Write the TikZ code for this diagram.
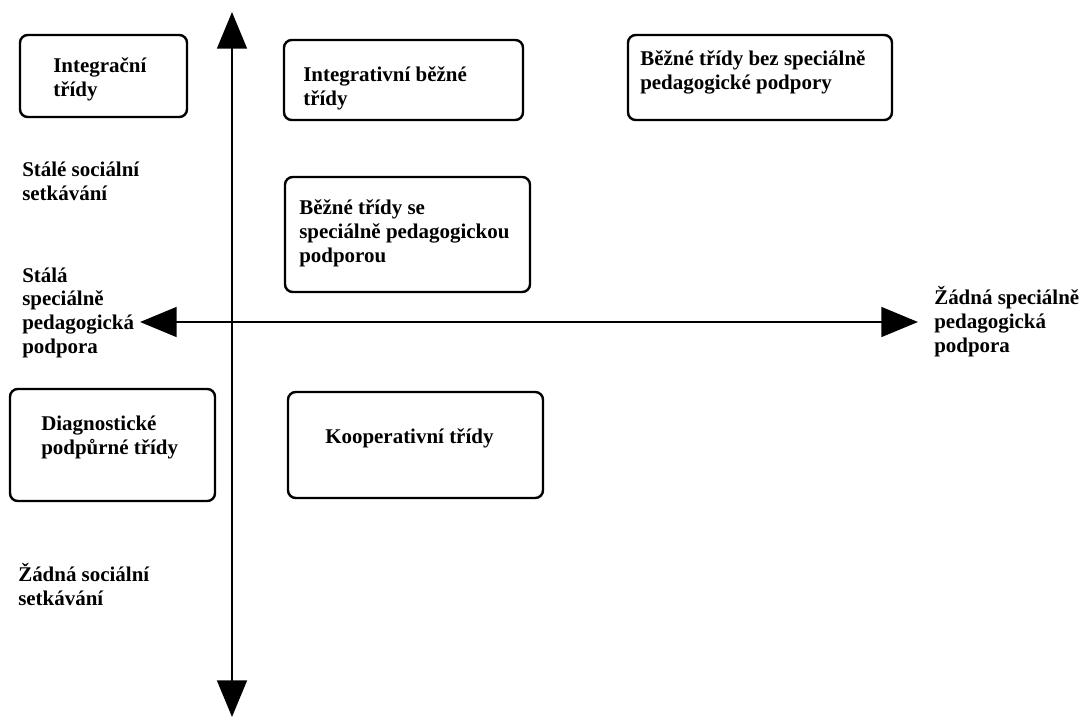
\documentclass[tikz,border=0pt]{standalone}
\usepackage{fontspec}
\setmainfont{Liberation Serif}
\usetikzlibrary{arrows.meta,fit}

\begin{document}
\begin{tikzpicture}[x=0.025cm,y=-0.025cm,
  trida/.style={draw,line width=1.7pt,rounded corners=5.5pt,inner sep=0pt},
  popis/.style={anchor=base west,align=left,inner sep=0pt,font=\fontsize{14.9}{16.8}\selectfont\bfseries},
  osa/.style={line width=2.1pt,{Triangle[width=21pt,length=26pt]}-{Triangle[width=21pt,length=26pt]}}]
\useasboundingbox (0,0) rectangle (1087,719);
% boxes
\node[trida,fit={(20,35) (187,117)}] (integ) {};
\node[trida,fit={(284,40) (523,120)}] (integbez) {};
\node[trida,fit={(628,35) (892,120)}] (bezpod) {};
\node[trida,fit={(285,177) (530,292)}] (spod) {};
\node[trida,fit={(10,389) (215,501)}] (diag) {};
\node[trida,fit={(288,392) (543,498)}] (koop) {};
% text sits on the baseline of its last line
\node[popis] (tinteg) at (53,96) {Integrační\\třídy};
\node[popis] (tintegbez) at (303,105) {Integrativní běžné\\třídy};
\node[popis] (tbezpod) at (640,89) {Běžné třídy bez speciálně\\pedagogické podpory};
\node[popis] (tspod) at (299,262) {Běžné třídy se\\speciálně pedagogickou\\podporou};
\node[popis] (tdiag) at (41,454) {Diagnostické\\podpůrné třídy};
\node[popis] (tkoop) at (325,443) {Kooperativní třídy};
% axis labels
\node[popis] (stalesoc) at (22,200) {Stálé sociální\\setkávání};
\node[popis] (stalapod) at (22,353) {Stálá\\speciálně\\pedagogická\\podpora};
\node[popis] (zadnasoc) at (18,605) {Žádná sociální\\setkávání};
\node[popis] (zadnapod) at (934,352) {Žádná speciálně\\pedagogická\\podpora};
\coordinate (nahore) at (232,12);
\coordinate (dole) at (232,717);
\coordinate (vlevo) at (140,322);
\coordinate (vpravo) at (918,322);
\draw[osa] (dole) -- (nahore);
\draw[osa] (vlevo) -- (vpravo);
\end{tikzpicture}
\end{document}
